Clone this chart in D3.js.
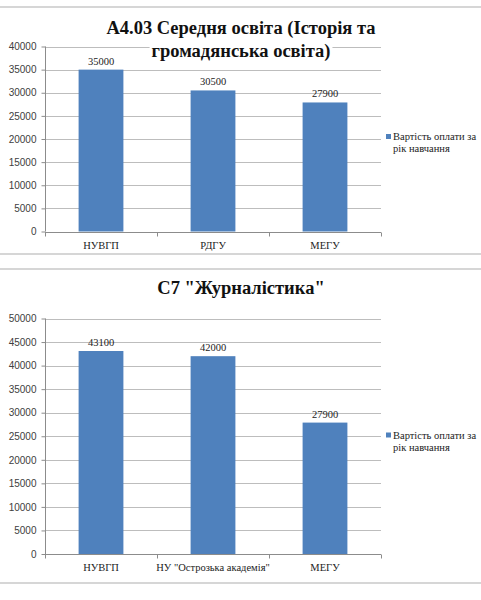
<!DOCTYPE html>
<html>
<head>
<meta charset="utf-8">
<script src="https://cdn.jsdelivr.net/npm/d3@7"></script>
<style>
  html, body { margin: 0; padding: 0; background: #fff; }
  svg { display: block; }
</style>
</head>
<body>
<svg id="chart" width="481" height="600"></svg>
<script>
// ---- Data ----
const legendLines = ["Вартість оплати за", "рік навчання"];

const chart1Title = ["А4.03 Середня освіта (Історія та", "громадянська освіта)"];
const chart1Categories = ["НУВГП", "РДГУ", "МЕГУ"];
const chart1Values = [35000, 30500, 27900];
const chart1Ticks = [0, 5000, 10000, 15000, 20000, 25000, 30000, 35000, 40000];

const chart2Title = ["С7 \"Журналістика\""];
const chart2Categories = ["НУВГП", "НУ \"Острозька академія\"", "МЕГУ"];
const chart2Values = [43100, 42000, 27900];
const chart2Ticks = [0, 5000, 10000, 15000, 20000, 25000, 30000, 35000, 40000, 45000, 50000];

// ---- Styles ----
const barColor = "#4f81bd";
const gridColor = "#bdbdbd";
const axisColor = "#8c8c8c";
const borderColor = "#c8c8c8";
const SERIF = "\"Liberation Serif\", \"Times New Roman\", serif";
const SANS = "\"Liberation Sans\", Arial, sans-serif";

const svg = d3.select("#chart");

function drawChart(cfg) {
  const g = svg.append("g");
  const x = d3.scaleBand()
    .domain(cfg.categories)
    .range([cfg.left, cfg.right])
    .paddingInner(0.6)
    .paddingOuter(0.3);
  const y = d3.scaleLinear()
    .domain([0, d3.max(cfg.ticks)])
    .range([cfg.bottom, cfg.top]);

  // box borders
  g.append("line").attr("x1", 0).attr("x2", 481)
    .attr("y1", cfg.boxTop).attr("y2", cfg.boxTop)
    .attr("stroke", borderColor).attr("stroke-width", 1.5);
  g.append("line").attr("x1", 0).attr("x2", 481)
    .attr("y1", cfg.boxBottom).attr("y2", cfg.boxBottom)
    .attr("stroke", borderColor).attr("stroke-width", 1.5);

  // gridlines
  g.append("g").selectAll("line").data(cfg.ticks.filter(t => t > 0)).join("line")
    .attr("x1", cfg.left).attr("x2", cfg.right)
    .attr("y1", d => Math.round(y(d)) + 0.5).attr("y2", d => Math.round(y(d)) + 0.5)
    .attr("stroke", gridColor).attr("stroke-width", 1);

  // y axis
  const yAxis = d3.axisLeft(y).tickValues(cfg.ticks).tickSize(4).tickPadding(5)
    .tickFormat(d3.format("d"));
  const ya = g.append("g").attr("transform", `translate(${cfg.left + 0.5},0)`).call(yAxis);
  ya.select(".domain").attr("stroke", axisColor).attr("d", `M0,${cfg.top}V${cfg.bottom}`);
  ya.selectAll(".tick line").attr("stroke", axisColor);
  ya.selectAll(".tick text").style("font-family", SANS).attr("font-size", 10).attr("fill", "#404040");

  // bars
  g.append("g").selectAll("rect").data(cfg.values).join("rect")
    .attr("x", (d, i) => x(cfg.categories[i]))
    .attr("width", x.bandwidth())
    .attr("y", d => y(d))
    .attr("height", d => y(0) - y(d))
    .attr("fill", barColor);

  // x axis line
  const xa = g.append("g").attr("transform", `translate(0,${Math.round(cfg.bottom) + 0.5})`);
  xa.append("line").attr("x1", cfg.left).attr("x2", cfg.right)
    .attr("stroke", axisColor);
  const bounds = [cfg.left].concat(cfg.categories.map(c => x(c) + x.bandwidth() + x.step() * 0.3));
  xa.selectAll(".xt").data(bounds).join("line").attr("class", "xt")
    .attr("x1", d => Math.round(d) + 0.5).attr("x2", d => Math.round(d) + 0.5)
    .attr("y1", 0).attr("y2", 4).attr("stroke", axisColor);
  xa.selectAll("text").data(cfg.categories).join("text")
    .style("font-family", SERIF)
    .attr("x", d => x(d) + x.bandwidth() / 2)
    .attr("y", 16)
    .attr("text-anchor", "middle")
    .attr("font-size", 10.5).attr("fill", "#222")
    .text(d => d);

  // data labels
  g.append("g").selectAll("text").data(cfg.values).join("text")
    .style("font-family", SERIF)
    .attr("x", (d, i) => x(cfg.categories[i]) + x.bandwidth() / 2)
    .attr("y", d => y(d) - 5)
    .attr("text-anchor", "middle")
    .attr("font-size", 10.5).attr("fill", "#222")
    .text(d => d);

  // title with white backing
  const tg = g.append("g");
  cfg.title.forEach((line, i) => {
    const t = tg.append("text")
      .style("font-family", SERIF)
      .style("font-weight", "bold")
      .attr("x", 241).attr("y", cfg.titleY + i * 23)
      .attr("text-anchor", "middle")
      .attr("font-size", cfg.titleSize).attr("fill", "#111")
      .text(line);
    const bb = t.node().getBBox();
    tg.insert("rect", "text")
      .attr("x", bb.x - 2).attr("y", bb.y + 2)
      .attr("width", bb.width + 4).attr("height", bb.height - 2)
      .attr("fill", "#fff");
  });

  // legend
  const lg = g.append("g");
  lg.append("rect").attr("x", 386).attr("y", cfg.legendY - 6)
    .attr("width", 5).attr("height", 5).attr("fill", barColor);
  lg.selectAll("text").data(legendLines).join("text")
    .style("font-family", SERIF)
    .attr("x", 393).attr("y", (d, i) => cfg.legendY + i * 12)
    .attr("font-size", 10.5).attr("fill", "#222")
    .text(d => d);
}

drawChart({
  categories: chart1Categories, values: chart1Values, ticks: chart1Ticks,
  title: chart1Title, titleY: 34, titleSize: 18.5,
  left: 45, right: 381, top: 46.5, bottom: 231.5,
  boxTop: 7, boxBottom: 254, legendY: 140
});

drawChart({
  categories: chart2Categories, values: chart2Values, ticks: chart2Ticks,
  title: chart2Title, titleY: 294, titleSize: 18.5,
  left: 45, right: 381, top: 318.5, bottom: 554,
  boxTop: 269, boxBottom: 583, legendY: 438.5
});
</script>
</body>
</html>
